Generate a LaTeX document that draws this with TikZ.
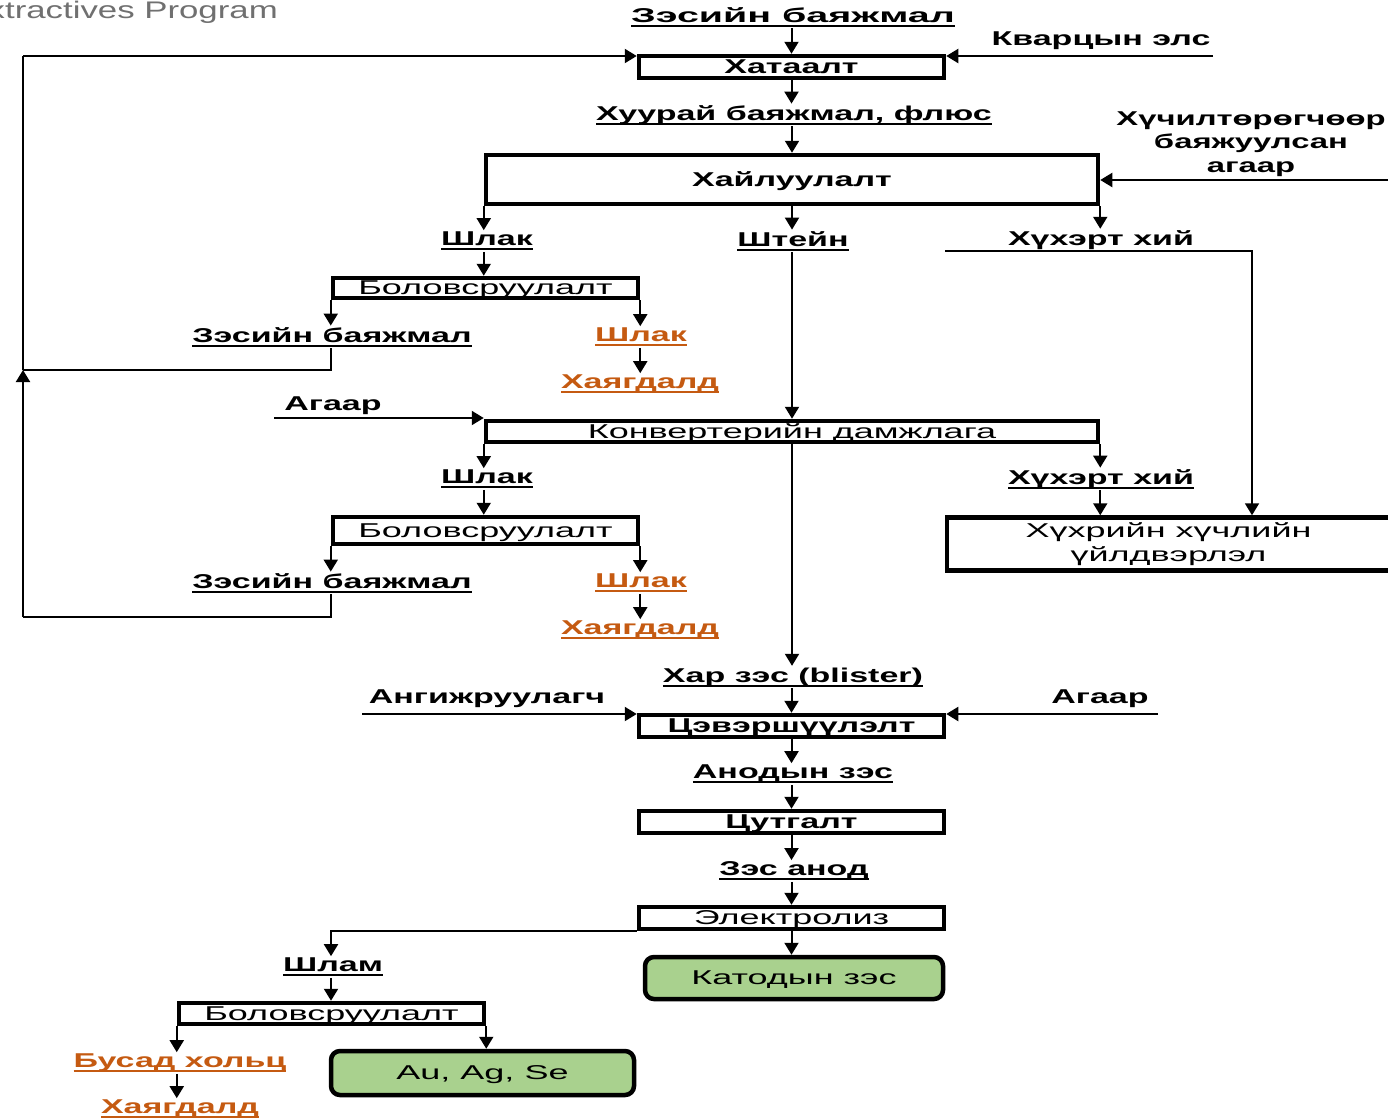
\documentclass[tikz,border=0pt]{standalone}
\usepackage{fontspec}
\setmainfont{Liberation Sans}[FakeStretch=1.8]
\newfontfamily\bd{Liberation Sans}[FakeStretch=1.7]
\newfontfamily\bdn{Liberation Sans}[FakeStretch=1.64]
\newfontfamily\bdw{Liberation Sans}[FakeStretch=1.97]
\newfontfamily\grayfont{Liberation Sans}[FakeStretch=1.45]
\usetikzlibrary{arrows.meta}
\definecolor{orng}{HTML}{C55A11}
\definecolor{grn}{HTML}{A9D18E}
\definecolor{gtxt}{HTML}{707070}
\newcommand\fs{\fontsize{20}{24}\selectfont}
\newcommand\uln[1]{\setbox0\hbox{#1}\rlap{\rule[-4.5pt]{\wd0}{1.8pt}}\box0}
\begin{document}
\begin{tikzpicture}[x=1pt,y=-1pt,
  box/.style={draw, line width=4.5pt, inner sep=0pt, fill=white, font=\fs, text height=14pt, text depth=1pt},
  bbox/.style={box, font=\fs\bd\bfseries},
  gbox/.style={box, fill=grn, rounded corners=9pt},
  lab/.style={inner sep=1.5pt, font=\fs\bd\bfseries},
  olab/.style={lab, text=orng},
  arr/.style={line width=2pt, -{Triangle[length=12pt,width=14pt]}},
  ln/.style={line width=2pt}]
\fill[white] (0,0) rectangle (1388,1119);
\clip (0,0) rectangle (1388,1119);

% header
\node[anchor=base east, inner sep=0pt, text=gtxt, font=\fontsize{24}{28}\selectfont\grayfont] (hdr) at (278,18) {Extractives Program};

% boxes
\node[bbox, minimum width=305pt, minimum height=22pt] (B1) at (791.5,67) {Хатаалт};
\node[bbox, minimum width=612pt, minimum height=49pt] (B2) at (792,179.5) {Хайлуулалт};
\node[box, minimum width=305pt, minimum height=20pt] (B3) at (485.5,288) {Боловсруулалт};
\node[box, minimum width=612pt, minimum height=21pt] (B4) at (792,431.5) {Конвертерийн дамжлага};
\node[box, minimum width=305pt, minimum height=27pt] (B5) at (485.5,530.5) {Боловсруулалт};
\node[draw, line width=4.5pt, inner sep=0pt, fill=white, font=\fs, align=center, minimum width=443pt, minimum height=53pt] (B6) at (1168.5,544) {Хүхрийн хүчлийн\\үйлдвэрлэл};
\node[bbox, minimum width=305pt, minimum height=22pt] (B7) at (791.5,726) {Цэвэршүүлэлт};
\node[bbox, minimum width=305pt, minimum height=22pt] (B8) at (791.5,822) {Цутгалт};
\node[box, minimum width=305pt, minimum height=22pt] (B9) at (791.5,918) {Электролиз};
\node[gbox, minimum width=298pt, minimum height=42pt] (G1) at (794,978) {Катодын зэс};
\node[box, minimum width=305pt, minimum height=21pt] (B10) at (331.5,1013.5) {Боловсруулалт};
\node[gbox, minimum width=303pt, minimum height=44pt] (G2) at (482.5,1073) {Au, Ag, Se};

% labels
\node[lab, font=\fs\bdw\bfseries] (L1) at (793,17) {\uln{Зэсийн баяжмал}};
\node[lab] (L2) at (1101,41) {Кварцын элс};
\node[lab] (L3) at (794,115) {\uln{Хуурай баяжмал, флюс}};
\node[lab, align=center, font=\fontsize{20}{23.5}\selectfont\bdn\bfseries] (L4) at (1251,144) {Хүчилтөрөгчөөр\\баяжуулсан\\агаар};
\node[lab] (L5) at (487,241) {\uln{Шлак}};
\node[lab] (L6) at (793,241) {\uln{Штейн}};
\node[lab] (L7) at (1101,240) {Хүхэрт хий};
\node[lab] (L8) at (332,337) {\uln{Зэсийн баяжмал}};
\node[olab] (L9) at (641,337) {\uln{Шлак}};
\node[olab] (L10) at (640,384) {\uln{Хаягдалд}};
\node[lab] (L11) at (333,406) {Агаар};
\node[lab] (L12) at (487,479) {\uln{Шлак}};
\node[lab] (L13) at (1101,479) {\uln{Хүхэрт хий}};
\node[lab] (L14) at (332,583) {\uln{Зэсийн баяжмал}};
\node[olab] (L15) at (641,583) {\uln{Шлак}};
\node[olab] (L16) at (640,630) {\uln{Хаягдалд}};
\node[lab] (L17) at (793,677) {\uln{Хар зэс (blister)}};
\node[lab] (L18) at (487,699) {Ангижруулагч};
\node[lab] (L19) at (1100,699) {Агаар};
\node[lab] (L20) at (793,774) {\uln{Анодын зэс}};
\node[lab] (L21) at (794,871) {\uln{Зэс анод}};
\node[lab] (L22) at (333,967) {\uln{Шлам}};
\node[olab] (L23) at (180,1063) {\uln{Бусад хольц}};
\node[olab] (L24) at (180,1109) {\uln{Хаягдалд}};

% free ends
\coordinate (kv) at (1213,56);
\coordinate (lt) at (23,56);
\coordinate (lm) at (23,370);
\coordinate (lb) at (23,617);
\coordinate (ox) at (1390,180);
\coordinate (hx1) at (945,251);
\coordinate (hx2) at (1252,251);
\coordinate (ag1) at (274,418);
\coordinate (an) at (362,714);
\coordinate (ag2) at (1158,714);

% top
\draw[arr] (L1.south -| B1) -- (B1.north);
\draw[arr] (kv) -- (kv -| B1.east);
\draw[arr] (lt) -- (lt -| B1.west);
\draw[arr] (B1.south) -- (B1.south |- L3.north);
\draw[arr] (L3.south -| B2) -- (B2.north);
\draw[arr] (ox) -- (ox -| B2.east);
% smelting outputs
\draw[arr] (B2.south west) -- (B2.south west |- L5.north);
\draw[arr] (B2.south) -- (B2.south |- L6.north);
\draw[arr] (B2.south east) -- (B2.south east |- L7.north);
\draw[arr] (L5.south -| B2.south west) -- (B2.south west |- B3.north);
\draw[arr] (B3.south west) -- (B3.south west |- L8.north);
\draw[arr] (B3.south east) -- (B3.south east |- L9.north);
\draw[arr] (L9.south -| B3.south east) -- (B3.south east |- L10.north);
\draw[ln] (L8.south -| B3.south west) |- (lm);
\draw[arr] (lb) -- (lm);
\draw[ln] (lm) -- (lt);
\draw[arr] (hx1) -- (hx2) -- (hx2 |- B6.north);
\draw[arr] (L6.south -| B4) -- (B4.north);
% converter
\draw[arr] (ag1) -- (ag1 -| B4.west);
\draw[arr] (B4.south west) -- (B4.south west |- L12.north);
\draw[arr] (B4.south east) -- (B4.south east |- L13.north);
\draw[arr] (B4.south) -- (B4.south |- L17.north);
\draw[arr] (L12.south -| B4.south west) -- (B4.south west |- B5.north);
\draw[arr] (B5.south west) -- (B5.south west |- L14.north);
\draw[arr] (B5.south east) -- (B5.south east |- L15.north);
\draw[arr] (L15.south -| B5.south east) -- (B5.south east |- L16.north);
\draw[ln] (L14.south -| B5.south west) |- (lb);
\draw[arr] (L13.south -| B4.south east) -- (B4.south east |- B6.north);
% refining
\draw[arr] (L17.south -| B7) -- (B7.north);
\draw[arr] (an) -- (an -| B7.west);
\draw[arr] (ag2) -- (ag2 -| B7.east);
\draw[arr] (B7.south) -- (B7.south |- L20.north);
\draw[arr] (L20.south -| B8) -- (B8.north);
\draw[arr] (B8.south) -- (B8.south |- L21.north);
\draw[arr] (L21.south -| B9) -- (B9.north);
\draw[arr] (B9.south) -- (B9.south |- G1.north);
\draw[arr] (B9.south west) -| ([xshift=-2pt]L22.north);
\draw[arr] ([xshift=-2pt]L22.south) -- ([xshift=-2pt]L22.south |- B10.north);
\draw[arr] (B10.south west) -- (B10.south west |- L23.north);
\draw[arr] (B10.south east) -- (B10.south east |- G2.north);
\draw[arr] (L23.south -| B10.south west) -- (B10.south west |- L24.north);
\end{tikzpicture}
\end{document}
